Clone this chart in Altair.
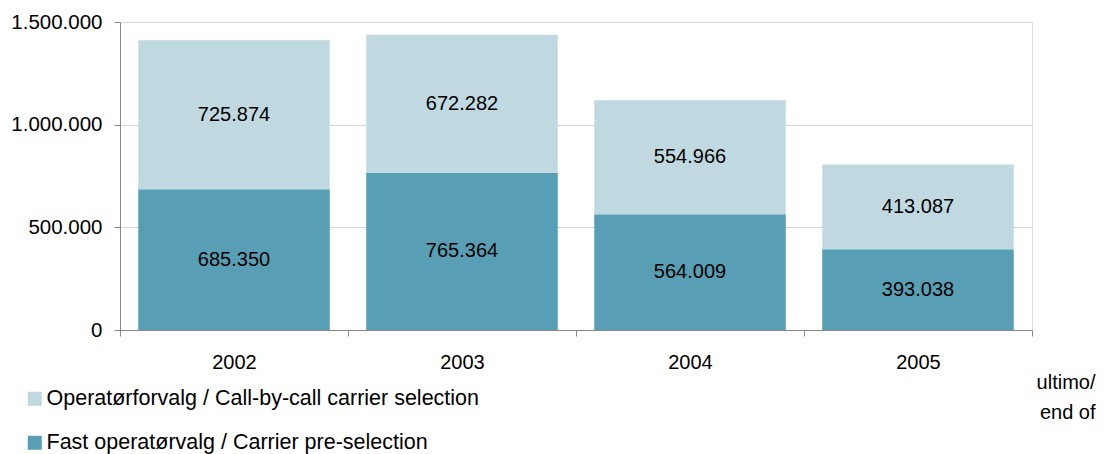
import altair as alt
import pandas as pd

years = ["2002", "2003", "2004", "2005"]
pre_selection = [685350, 765364, 564009, 393038]
call_by_call = [725874, 672282, 554966, 413087]

series_names = [
    "Operatørforvalg / Call-by-call carrier selection",
    "Fast operatørvalg /  Carrier pre-selection",
]
colors = ["#C0D9E1", "#589FB5"]

rows = []
for i, y in enumerate(years):
    rows.append({"year": y, "series": series_names[1], "value": pre_selection[i], "rank": 0})
    rows.append({"year": y, "series": series_names[0], "value": call_by_call[i], "rank": 1})
df = pd.DataFrame(rows)

FONT = "Liberation Sans"

x_enc = alt.X(
    "year:N",
    scale=alt.Scale(paddingInner=0, paddingOuter=0),
    axis=alt.Axis(
        title=["ultimo/", "end of"],
        titleAlign="right",
        titleBaseline="top",
        titleX=975,
        titleY=42,
        titleLineHeight=30,
        titleFontSize=20,
        titleFontWeight="normal",
        titleFont=FONT,
        titleColor="#000000",
        tickBand="extent",
        labelPadding=16,
        labelAngle=0,
        labelFontSize=20,
        tickSize=6,
        grid=False,
    ),
)

base = alt.Chart(df)

bars = base.mark_bar(width=alt.RelativeBandSize(0.84)).encode(
    x=x_enc,
    y=alt.Y(
        "value:Q",
        stack="zero",
        scale=alt.Scale(domain=[0, 1500000], nice=False),
        axis=alt.Axis(
            title=None,
            values=[0, 500000, 1000000, 1500000],
            format=",d",
            labelExpr="replace(datum.label, regexp(',', 'g'), '.')",
            labelFontSize=20.5,
            labelPadding=12,
            tickSize=6,
            grid=True,
            gridColor="#D9D9D9",
        ),
    ),
    color=alt.Color(
        "series:N",
        scale=alt.Scale(domain=series_names, range=colors),
        legend=alt.Legend(
            title=None,
            orient="none",
            legendX=-96,
            legendY=366,
            direction="vertical",
            symbolType="square",
            symbolSize=196,
            symbolStrokeWidth=0,
            labelFontSize=21.5,
            labelFont=FONT,
            labelColor="#000000",
            labelOffset=1,
            rowPadding=21,
            padding=0,
            labelLimit=700,
        ),
    ),
    order=alt.Order("rank:Q", sort="ascending"),
)

labels = base.transform_stack(
    stack="value",
    groupby=["year"],
    sort=[alt.SortField("rank", order="ascending")],
    as_=["y0", "y1"],
).transform_calculate(
    mid="(datum.y0 + datum.y1) / 2",
    lbl="replace(format(datum.value, ','), regexp(',', 'g'), '.')",
).mark_text(font=FONT, fontSize=20, color="#000000").encode(
    x=alt.X("year:N"),
    y=alt.Y("mid:Q"),
    text="lbl:N",
)

chart = alt.layer(bars, labels).properties(
    width=912,
    height=308,
    autosize=alt.AutoSizeParams(type="none"),
    padding={"left": 112, "top": 14, "right": 64, "bottom": 124},
).configure_view(stroke=None).configure_axis(
    domainColor="#868686",
    tickColor="#868686",
    labelFont=FONT,
    labelColor="#000000",
).configure(background="#FFFFFF")

chart.save("out.html", embed_options={"renderer": "svg", "actions": False})
